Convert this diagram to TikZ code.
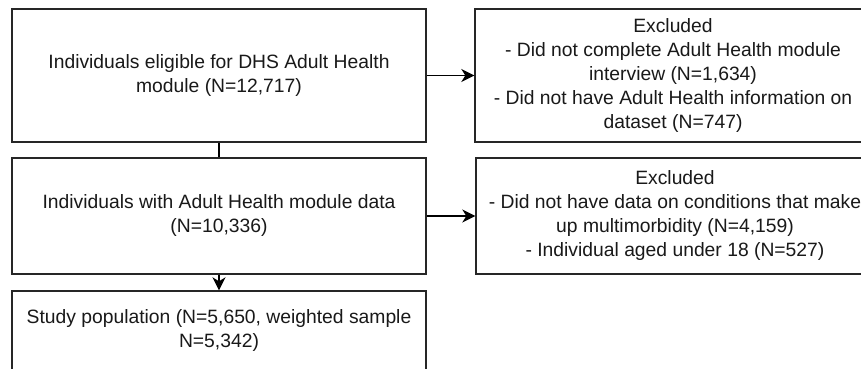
\documentclass[tikz,border=0pt]{standalone}
\usepackage{fontspec}
\setmainfont{Liberation Sans}
\usetikzlibrary{arrows.meta}
\begin{document}
\begin{tikzpicture}[x=1pt,y=-1pt,
  box/.style={draw=black!85,line width=1.4pt,rectangle,inner sep=0pt,align=center,
    font=\fontsize{19.3}{24}\selectfont,text=black!90},
  conn/.style={line width=1.4pt,draw=black},
  arr/.style={conn,-{Stealth[length=13pt,width=13pt,inset=4pt]}}]
\clip (0,0) rectangle (861,369);
\fill[white] (0,0) rectangle (861,369);
\node[box,minimum width=414pt,minimum height=133pt] (b1) at (219,75.5)
  {Individuals eligible for DHS Adult Health\\module (N=12,717)};
\node[box,minimum width=396pt,minimum height=133pt] (b2) at (673,75.5)
  {Excluded\\- Did not complete Adult Health module\\interview (N=1,634)\\- Did not have Adult Health information on\\dataset (N=747)};
\node[box,minimum width=414pt,minimum height=116pt] (b3) at (219,216)
  {Individuals with Adult Health module data\\(N=10,336)};
\node[box,minimum width=398pt,minimum height=116pt] (b4) at (675,216)
  {Excluded\\- Did not have data on conditions that make\\up multimorbidity (N=4,159)\\- Individual aged under 18 (N=527)};
\node[box,minimum width=414pt,minimum height=80pt] (b5) at (219,331)
  {Study population (N=5,650, weighted sample\\N=5,342)};
\draw[arr] (b1.east) -- (b2.west);
\draw[arr] (b3.east) -- (b4.west);
\draw[conn] (b1.south) -- (b3.north);
\draw[arr] (b3.south) -- (b5.north);
\end{tikzpicture}
\end{document}
